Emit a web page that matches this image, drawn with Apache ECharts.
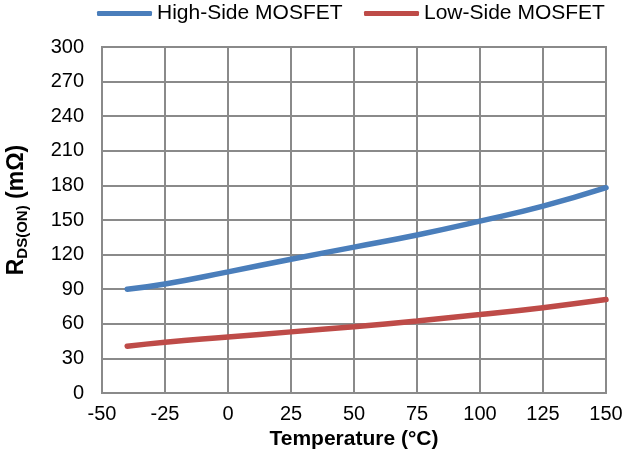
<!DOCTYPE html>
<html><head><meta charset="utf-8">
<script src="https://cdn.jsdelivr.net/npm/echarts@6/dist/echarts.min.js"></script>
<style>html,body{margin:0;padding:0;background:#fff}#c{width:631px;height:452px}</style>
</head><body><div id="c"></div>
<script>
var temperatures = [-40, -25, 0, 25, 50, 75, 100, 125, 150];
var highSide = [90, 94.5, 105, 116, 126.5, 137, 149, 162, 178];
var lowSide = [40.5, 44, 48.5, 53, 57.5, 62.5, 68, 74, 81];
var seriesNames = ['High-Side MOSFET', 'Low-Side MOSFET'];
var xTicks = {min: -50, max: 150, interval: 25};
var yTicks = {min: 0, max: 300, interval: 30};

function pairs(xs, ys){ return xs.map(function(x,i){ return [x, ys[i]]; }); }
var font = 'Liberation Sans, Arial, sans-serif';
var gridColor = '#8a8a8a';
var gw = 2;
var legendText = {fontFamily: font, fontSize: 21, color: '#000'};
var chart = echarts.init(document.getElementById('c'), null, {renderer:'canvas'});
chart.setOption({
  animation: false,
  backgroundColor: '#fff',
  legend: [
    {top: 3, left: 97, padding: 0, itemWidth: 55, itemHeight: 5, icon: 'roundRect', textStyle: legendText, data: [seriesNames[0]]},
    {top: 3, left: 364, padding: 0, itemWidth: 55, itemHeight: 5, icon: 'roundRect', textStyle: legendText, data: [seriesNames[1]]}
  ],
  grid: {left: 102, right: 25, top: 47, bottom: 59, show: true, borderColor: gridColor, borderWidth: gw, outerBoundsMode: 'none', containLabel: false},
  xAxis: {
    type: 'value', min: xTicks.min, max: xTicks.max, interval: xTicks.interval,
    name: 'Temperature (°C)', nameLocation: 'middle', nameGap: 34,
    nameTextStyle: {fontFamily: font, fontSize: 21, fontWeight: 'bold', color: '#000'},
    axisLine: {show: true, lineStyle: {color: gridColor, width: gw}},
    axisTick: {show: false},
    axisLabel: {fontFamily: font, fontSize: 20, color: '#000', margin: 11},
    splitLine: {show: true, lineStyle: {color: gridColor, width: gw}}
  },
  yAxis: {
    type: 'value', min: yTicks.min, max: yTicks.max, interval: yTicks.interval,
    name: '{a|R}{b|DS(ON)}{a| (mΩ)}', nameLocation: 'middle', nameGap: 72, nameRotate: 90,
    nameTextStyle: {
      fontFamily: font, fontWeight: 'bold', color: '#000', padding: [0, 0, 0, 20],
      rich: {
        a: {fontFamily: font, fontSize: 23, fontWeight: 'bold', color: '#000'},
        b: {fontFamily: font, fontSize: 15, fontWeight: 'bold', color: '#000', padding: [11,0,0,0]}
      }
    },
    axisLine: {show: true, lineStyle: {color: gridColor, width: gw}},
    axisTick: {show: false},
    axisLabel: {fontFamily: font, fontSize: 20, color: '#000', margin: 18},
    splitLine: {show: true, lineStyle: {color: gridColor, width: gw}}
  },
  series: [
    {name: seriesNames[0], type: 'line', smooth: true, showSymbol: false, symbol: 'none',
     data: pairs(temperatures, highSide), color: '#4a7ebb',
     lineStyle: {width: 5.5, color: '#4a7ebb', cap: 'round'}},
    {name: seriesNames[1], type: 'line', smooth: true, showSymbol: false, symbol: 'none',
     data: pairs(temperatures, lowSide), color: '#be4b48',
     lineStyle: {width: 5.5, color: '#be4b48', cap: 'round'}}
  ]
});
</script></body></html>
